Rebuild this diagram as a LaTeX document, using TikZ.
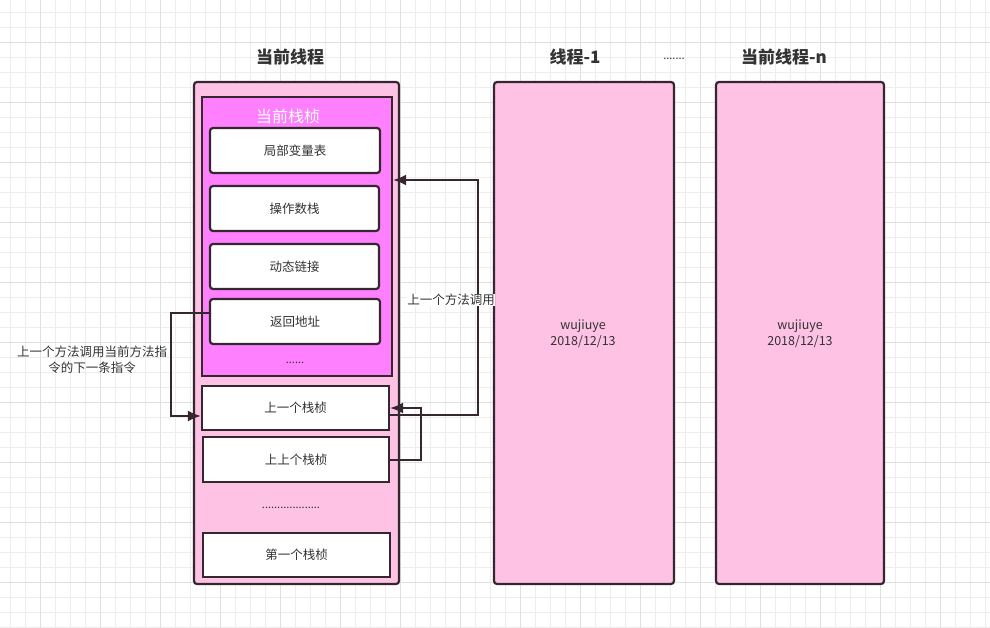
\documentclass[tikz,border=0pt]{standalone}
\usepackage{fontspec}
\setmainfont{Noto Sans CJK SC}
\usetikzlibrary{arrows.meta}
\definecolor{threadpink}{HTML}{FEC2E4}
\definecolor{framepink}{HTML}{FF80FF}
\definecolor{edgedark}{HTML}{36262F}
\definecolor{textgray}{HTML}{333333}
\definecolor{gridlight}{HTML}{EDEDED}
\definecolor{griddark}{HTML}{E0E0E0}
\tikzset{
  threadbox/.style={draw=edgedark, line width=2.2pt, fill=threadpink, rounded corners=3pt},
  framebox/.style={draw=edgedark, line width=2.2pt, fill=framepink},
  slotbox/.style={draw=edgedark, line width=2.2pt, fill=white, rounded corners=3pt,
    text=textgray, font=\fontsize{12.5}{15}\selectfont},
  stackbox/.style={draw=edgedark, line width=2.2pt, fill=white,
    text=textgray, font=\fontsize{12.5}{15}\selectfont},
  title/.style={text=textgray, font=\fontsize{17}{20}\selectfont\bfseries},
  note/.style={text=textgray, font=\fontsize{12.5}{16}\selectfont, align=center},
  dots/.style={text=textgray, font=\fontsize{11}{12}\selectfont},
  link/.style={draw=edgedark, line width=2pt, -{Latex[length=13pt,width=11pt]}}
}
\begin{document}
\begin{tikzpicture}[x=1pt,y=-1pt]
\useasboundingbox (0,0) rectangle (990,628);
\fill[white] (0,0) rectangle (990,628);
% Grid paper
\foreach \gx in {10,25,...,985}
  \draw[gridlight, line width=0.7pt] (\gx,0) -- (\gx,628);
\foreach \gy in {12,27,...,627}
  \draw[gridlight, line width=0.7pt] (0,\gy) -- (990,\gy);
\foreach \gx in {40,100,...,985}
  \draw[griddark, line width=0.7pt] (\gx,0) -- (\gx,628);
\foreach \gy in {42,102,...,627}
  \draw[griddark, line width=0.7pt] (0,\gy) -- (990,\gy);
% Current thread
\node[title] (curtitle) at (290,57) {当前线程};
\draw[threadbox] (194,82) rectangle (399,584);
\node[framebox, minimum width=190pt, minimum height=279pt] (curframe) at (297,236.5) {};
\node[text=white, font=\fontsize{16}{19}\selectfont] (curlabel) at (288,116) {当前栈桢};
\node[slotbox, minimum width=170pt, minimum height=45pt] (locals) at (295,150.5) {局部变量表};
\node[slotbox, minimum width=169pt, minimum height=45pt] (operand) at (294.5,208.5) {操作数栈};
\node[slotbox, minimum width=169pt, minimum height=45pt] (dynlink) at (294.5,266.5) {动态链接};
\node[slotbox, minimum width=170pt, minimum height=45pt] (retaddr) at (295,321.5) {返回地址};
\node[dots] (framedots) at (295,363) {......};
\node[stackbox, minimum width=187pt, minimum height=44pt] (prevframe) at (295.5,408) {上一个栈桢};
\node[stackbox, minimum width=186pt, minimum height=45pt] (pprevframe) at (296,459.5) {上上个栈桢};
\node[dots] (stackdots) at (291,508) {...................};
\node[stackbox, minimum width=187pt, minimum height=44pt] (firstframe) at (296.5,555) {第一个栈桢};
% Other threads
\node[title] (onetitle) at (575,57) {线程-1};
\node[dots] (threaddots) at (674,59) {.......};
\node[title] (ntitle) at (784,57) {当前线程-n};
\node[threadbox, minimum width=180pt, minimum height=502pt] (threadone) at (584,333) {};
\node[note] (onesign) at (583,334) {wujiuye\\2018/12/13};
\node[threadbox, minimum width=168pt, minimum height=502pt] (threadn) at (800,333) {};
\node[note] (nsign) at (800,334) {wujiuye\\2018/12/13};
% Links between frames
\draw[link] ([yshift=9pt]retaddr.west) -- ++(-38,0) |- ([yshift=-8pt]prevframe.west);
\node[note] (retnote) at (92,360) {上一个方法调用当前方法指\\令的下一条指令};
\draw[link] ([yshift=-7pt]prevframe.east) -- ++(88,0) |- ([yshift=56.5pt]curframe.east);
\node[note, fill=white, inner sep=0pt] (callnote) at (451,300) {上一个方法调用};
\draw[link] (pprevframe.east) -- ++(31,0) |- (prevframe.east);
\end{tikzpicture}
\end{document}
